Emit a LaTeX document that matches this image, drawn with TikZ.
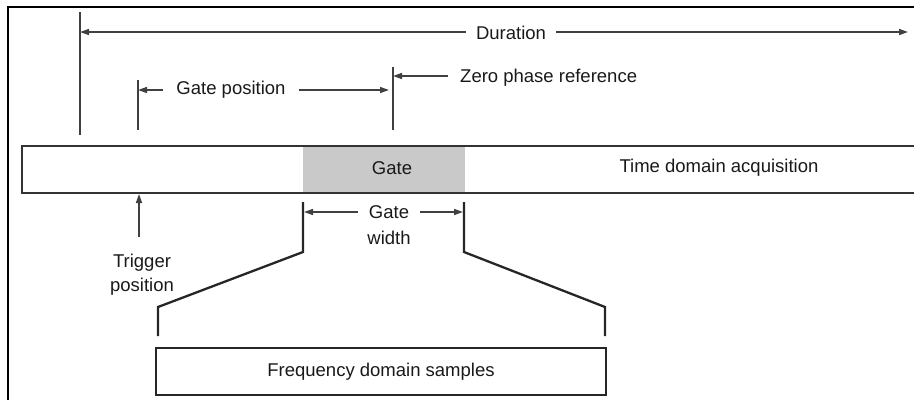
\documentclass[tikz,border=0pt]{standalone}
\usepackage{fontspec}
\setmainfont{Liberation Sans}
\usetikzlibrary{arrows.meta}
\tikzset{
  lbl/.style={font=\fontsize{18.5}{24}\selectfont, text=black!90, inner sep=0pt},
  dim/.style={line width=1.5pt, draw=black!75, -{Triangle[length=9pt,width=6pt]}},
  tick/.style={line width=1.5pt, draw=black!75},
  thickline/.style={line width=2.3pt, draw=black!85},
  barline/.style={line width=2.2pt, draw=black!80},
}
\begin{document}
\begin{tikzpicture}[x=1pt,y=-1pt]
\useasboundingbox (0,0) rectangle (914,400);
% frame (right and bottom edges lie outside the picture)
\draw[line width=2.4pt,black] (8,400) -- (8,7) -- (914,7);
% gate shading
\fill[black!21] (303,146) rectangle (465,193);
% time domain bar
\draw[barline] (914,146) -- (22,146) -- (22,193) -- (914,193);
\node[lbl] (gate) at (392,168) {Gate};
\node[lbl] (tda) at (719,168) {Time domain acquisition};
% duration
\coordinate (durL) at (80,32);
\coordinate (durR) at (908,32);
\draw[tick] (80,12) -- (80,135);
\node[lbl, inner xsep=10pt] (dur) at (511,33) {Duration};
\draw[dim] (dur.west |- durL) -- (durL);
\draw[dim] (dur.east |- durR) -- (durR);
% gate position
\coordinate (gpL) at (138,90);
\coordinate (gpR) at (389,90);
\draw[tick] (138,80) -- (138,130);
\node[lbl, inner xsep=13pt] (gpos) at (231,90) {Gate position};
\draw[dim] (gpos.west |- gpL) -- (gpL);
\draw[dim] (gpos.east |- gpR) -- (gpR);
% zero phase reference
\coordinate (zp) at (393,76);
\draw[tick] (393,67) -- (393,130);
\node[lbl, anchor=west, inner xsep=0pt] (zpr) at (460,78) {Zero phase reference};
\coordinate (zpstart) at (448,76);
\draw[dim] (zpstart) -- (zp);
% trigger
\node[lbl, align=center] (trig) at (142,275) {Trigger\\position};
\coordinate (trigtop) at (139,194);
\draw[dim] (139,237) -- (trigtop);
% gate width
\node[lbl, inner xsep=11pt] (gw1) at (389,212) {Gate};
\node[lbl] (gw2) at (389,238) {width};
\coordinate (gwL) at (304,212);
\coordinate (gwR) at (463,212);
\draw[dim] (gw1.west |- gwL) -- (gwL);
\draw[dim] (gw1.east |- gwR) -- (gwR);
% frequency domain box and funnel
\node[draw=black!85, line width=2pt, minimum width=450pt, minimum height=47pt, inner sep=0pt] (fds) at (381,371.5) {};
\node[lbl] at (fds.center) {Frequency domain samples};
\draw[thickline, line join=miter] (303,202) -- (303,252) -- (158,307) -- (158,336);
\draw[thickline, line join=miter] (464,202) -- (464,252) -- (605,307) -- (605,336);
\end{tikzpicture}
\end{document}
